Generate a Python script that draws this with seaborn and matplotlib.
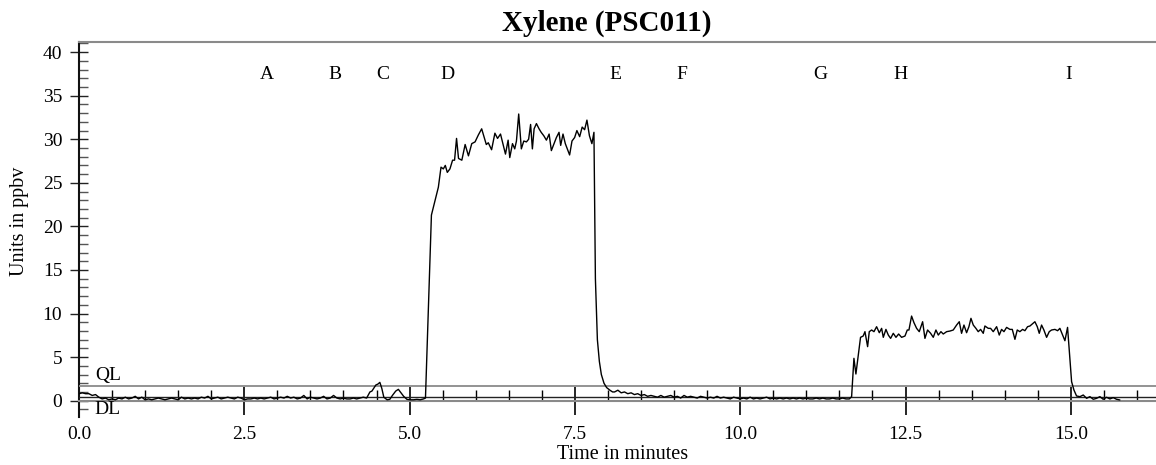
import numpy as np
import pandas as pd
import matplotlib
matplotlib.use("Agg")
import matplotlib.pyplot as plt
from matplotlib.ticker import MultipleLocator
import seaborn as sns

# ---------------- data ----------------
# baseline before event C (minutes, ppbv)
base1_time = [0.00, 0.05, 0.10, 0.15, 0.20, 0.25, 0.30, 0.35, 0.40, 0.45,
              0.50, 0.55, 0.60, 0.65, 0.70, 0.75, 0.80, 0.85, 0.90, 0.95,
              1.00, 1.05, 1.10, 1.15, 1.20, 1.25, 1.30, 1.35, 1.40, 1.45,
              1.50, 1.55, 1.60, 1.65, 1.70, 1.75, 1.80, 1.85, 1.90, 1.95,
              2.00, 2.05, 2.10, 2.15, 2.20, 2.25, 2.30, 2.35, 2.40, 2.45,
              2.50, 2.55, 2.60, 2.65, 2.70, 2.75, 2.80, 2.85, 2.90, 2.95,
              3.00, 3.05, 3.10, 3.15, 3.20, 3.25, 3.30, 3.35, 3.40, 3.45,
              3.50, 3.55, 3.60, 3.65, 3.70, 3.75, 3.80, 3.85, 3.90, 3.95,
              4.00, 4.05, 4.10, 4.15, 4.20, 4.25, 4.30]
base1_ppbv = [0.8, 0.9, 0.8, 0.8, 0.6, 0.7, 0.4, 0.2, 0.3, 0.1,
              0.2, 0.1, 0.3, 0.2, 0.4, 0.2, 0.3, 0.5, 0.2, 0.4,
              0.1, 0.2, 0.1, 0.2, 0.3, 0.2, 0.1, 0.2, 0.3, 0.2,
              0.1, 0.4, 0.2, 0.3, 0.2, 0.3, 0.2, 0.4, 0.3, 0.5,
              0.2, 0.3, 0.4, 0.2, 0.3, 0.4, 0.3, 0.2, 0.4, 0.3,
              0.1, 0.2, 0.2, 0.3, 0.2, 0.3, 0.2, 0.3, 0.4, 0.2,
              0.3, 0.4, 0.3, 0.5, 0.3, 0.4, 0.2, 0.3, 0.6, 0.2,
              0.4, 0.3, 0.2, 0.3, 0.5, 0.2, 0.3, 0.6, 0.3, 0.2,
              0.3, 0.2, 0.2, 0.3, 0.2, 0.3, 0.4]

# small bumps around C
bump_time = [4.35, 4.40, 4.43, 4.49, 4.52, 4.55, 4.58, 4.61, 4.66, 4.70,
             4.74, 4.79, 4.83, 4.86, 4.91, 4.96, 5.01, 5.06, 5.11, 5.16, 5.21]
bump_ppbv = [0.3, 1.0, 1.1, 1.8, 1.9, 2.1, 1.4, 0.4, 0.1, 0.15,
             0.6, 1.1, 1.3, 1.0, 0.5, 0.15, 0.1, 0.1, 0.15, 0.1, 0.2]

# first exposure (D..E)
peak1_time = [5.24, 5.33, 5.435, 5.475, 5.51, 5.54, 5.57, 5.61, 5.65, 5.68,
              5.71, 5.74, 5.79, 5.84, 5.89, 5.94, 5.99, 6.04, 6.09, 6.16,
              6.19, 6.24, 6.29, 6.33, 6.375, 6.415, 6.45, 6.49, 6.515, 6.556,
              6.59, 6.616, 6.65, 6.69, 6.727, 6.767, 6.80, 6.83, 6.857, 6.883,
              6.918, 6.958, 6.99, 7.03, 7.069, 7.11, 7.144, 7.185, 7.22, 7.26,
              7.285, 7.32, 7.355, 7.385, 7.42, 7.456, 7.496, 7.53, 7.572, 7.61,
              7.647, 7.682, 7.72, 7.757, 7.788, 7.81, 7.84, 7.87, 7.90, 7.94,
              7.98, 8.03, 8.07]
peak1_ppbv = [0.3, 21.3, 24.5, 26.8, 26.6, 27.0, 26.2, 26.6, 27.6, 27.6,
              30.1, 27.8, 27.6, 29.4, 28.1, 29.5, 29.7, 30.5, 31.2, 29.4,
              29.6, 28.8, 30.7, 30.1, 30.6, 29.4, 28.3, 29.9, 27.9, 29.5,
              28.9, 29.8, 32.9, 28.9, 29.8, 29.7, 30.0, 31.7, 28.9, 31.2,
              31.8, 31.2, 30.8, 30.4, 29.9, 30.6, 28.7, 29.5, 30.2, 30.8,
              29.3, 30.6, 29.5, 28.9, 28.2, 29.8, 30.2, 31.0, 30.3, 31.4,
              31.1, 32.2, 30.4, 29.5, 30.8, 14.0, 7.0, 4.5, 3.0, 2.0,
              1.5, 1.2, 1.0]

# baseline between E and H
base2_time = [8.10, 8.15, 8.20, 8.25, 8.30, 8.35, 8.40, 8.45, 8.50, 8.55,
              8.60, 8.65, 8.70, 8.75, 8.80, 8.85, 8.90, 8.95, 9.00, 9.05,
              9.10, 9.15, 9.20, 9.25, 9.30, 9.35, 9.40, 9.45, 9.50, 9.55,
              9.60, 9.65, 9.70, 9.75, 9.80, 9.85, 9.90, 9.95, 10.00, 10.05,
              10.10, 10.15, 10.20, 10.25, 10.30, 10.35, 10.40, 10.45, 10.50, 10.55,
              10.60, 10.65, 10.70, 10.75, 10.80, 10.85, 10.90, 10.95, 11.00, 11.05,
              11.10, 11.15, 11.20, 11.25, 11.30, 11.35, 11.40, 11.45, 11.50, 11.55,
              11.60, 11.65]
base2_ppbv = [1.0, 1.2, 0.9, 1.0, 0.8, 0.9, 0.7, 0.8, 0.6, 0.7,
              0.5, 0.6, 0.5, 0.4, 0.6, 0.4, 0.5, 0.6, 0.4, 0.5,
              0.3, 0.6, 0.4, 0.5, 0.4, 0.3, 0.5, 0.4, 0.3, 0.4,
              0.3, 0.5, 0.3, 0.4, 0.3, 0.2, 0.4, 0.3, 0.2, 0.3,
              0.2, 0.4, 0.2, 0.3, 0.2, 0.3, 0.4, 0.2, 0.3, 0.2,
              0.3, 0.2, 0.3, 0.2, 0.3, 0.2, 0.3, 0.2, 0.3, 0.2,
              0.2, 0.3, 0.2, 0.3, 0.2, 0.2, 0.3, 0.2, 0.2, 0.3,
              0.2, 0.2]

# second exposure (H..I) and tail
peak2_time = [11.685, 11.72, 11.75, 11.82, 11.86, 11.887, 11.927, 11.952, 11.988, 12.023,
              12.063, 12.104, 12.139, 12.164, 12.204, 12.24, 12.275, 12.315, 12.356, 12.396,
              12.441, 12.492, 12.527, 12.552, 12.592, 12.628, 12.668, 12.708, 12.759, 12.794,
              12.834, 12.88, 12.92, 12.96, 12.996, 13.036, 13.071, 13.122, 13.172, 13.222,
              13.273, 13.313, 13.348, 13.384, 13.424, 13.459, 13.49, 13.525, 13.565, 13.60,
              13.636, 13.676, 13.701, 13.752, 13.787, 13.827, 13.878, 13.918, 13.953, 13.989,
              14.029, 14.079, 14.115, 14.155, 14.19, 14.23, 14.271, 14.306, 14.346, 14.382,
              14.417, 14.457, 14.493, 14.523, 14.558, 14.593, 14.634, 14.674, 14.709, 14.76,
              14.80, 14.835, 14.911, 14.951, 14.987, 15.012, 15.047, 15.087, 15.138, 15.188,
              15.239, 15.289, 15.34, 15.39, 15.44, 15.49, 15.541, 15.591, 15.642, 15.692,
              15.742]
peak2_ppbv = [0.46, 4.86, 3.06, 7.27, 7.42, 7.92, 6.20, 7.92, 8.11, 7.92,
              8.49, 7.80, 8.30, 7.27, 8.18, 7.53, 7.15, 7.73, 7.27, 7.65,
              7.27, 7.42, 8.11, 8.11, 9.71, 8.95, 8.30, 7.92, 9.06, 7.15,
              8.11, 7.73, 7.27, 8.11, 7.53, 7.92, 7.65, 7.92, 7.99, 8.11,
              8.68, 9.06, 7.73, 8.68, 7.80, 8.49, 9.45, 8.68, 8.30, 7.92,
              8.18, 7.73, 8.57, 8.30, 8.30, 7.92, 8.49, 7.53, 8.18, 7.92,
              8.41, 8.18, 8.18, 7.04, 8.11, 7.92, 8.18, 8.03, 8.49, 8.57,
              8.80, 9.06, 8.49, 7.73, 8.68, 8.11, 7.27, 7.92, 8.11, 8.18,
              8.03, 8.30, 6.88, 8.41, 4.67, 2.18, 1.23, 0.54, 0.46, 0.65,
              0.27, 0.46, 0.16, 0.27, 0.46, 0.16, 0.39, 0.20, 0.35, 0.16,
              0.08]

# reference levels and event markers
ql_level = 1.69
dl_level = 0.46
event_labels = ["A", "B", "C", "D", "E", "F", "G", "H", "I"]
event_times = [2.84, 3.87, 4.60, 5.58, 8.11, 9.12, 11.21, 12.42, 14.96]
event_y = 37.4

x_major = [0.0, 2.5, 5.0, 7.5, 10.0, 12.5, 15.0]
x_major_labels = ["0.0", "2.5", "5.0", "7.5", "10.0", "12.5", "15.0"]
y_major = [0, 5, 10, 15, 20, 25, 30, 35, 40]

# ---------------- figure ----------------
sns.set_theme(style="white")
plt.rcParams['font.family'] = ['Liberation Serif', 'DejaVu Serif']
plt.rcParams['text.color'] = 'black'
plt.rcParams['axes.labelcolor'] = 'black'
plt.rcParams['xtick.color'] = 'black'
plt.rcParams['ytick.color'] = 'black'

W, H = 1156, 465
fig = plt.figure(figsize=(W / 100, H / 100), dpi=100)
ax_left, ax_right, ax_top, ax_bottom = 79, 1156, 41.7, 416.7
ax = fig.add_axes([ax_left / W, (H - ax_bottom) / H,
                   (ax_right - ax_left) / W, (ax_bottom - ax_top) / H])

df = pd.DataFrame({
    "time": base1_time + bump_time + peak1_time + base2_time + peak2_time,
    "ppbv": base1_ppbv + bump_ppbv + peak1_ppbv + base2_ppbv + peak2_ppbv,
})
sns.lineplot(data=df, x="time", y="ppbv", ax=ax, color="black",
             linewidth=1.0, estimator=None, sort=False, zorder=5)

ax.axhline(ql_level, color="#8a8a8a", lw=1.3, zorder=3)
ax.axhline(dl_level, color="#222222", lw=1.0, zorder=3)

ax.set_xlim(0, (ax_right - ax_left) / 66.12)
ax.set_ylim(-1.84, 41.2)

# spines
ax.spines["right"].set_visible(False)
ax.spines["top"].set_color("#8a8a8a")
ax.spines["top"].set_linewidth(1.5)
ax.spines["left"].set_color("#111111")
ax.spines["left"].set_linewidth(1.5)
ax.spines["bottom"].set_position(("data", 0))
ax.spines["bottom"].set_color("#8a8a8a")
ax.spines["bottom"].set_linewidth(1.5)

# ticks
ax.set_xticks(x_major)
ax.set_xticklabels(x_major_labels)
ax.xaxis.set_minor_locator(MultipleLocator(0.5))
ax.set_yticks(y_major)
ax.yaxis.set_minor_locator(MultipleLocator(1))
ax.tick_params(axis="x", which="major", direction="inout", length=19.5,
               width=1.2, color="black", pad=8.5, labelsize=14, bottom=True)
ax.tick_params(axis="x", which="minor", direction="in", length=8,
               width=1.0, color="black", bottom=True)
ax.tick_params(axis="y", which="major", direction="inout", length=13,
               width=1.0, color="#222222", pad=5.5, labelsize=14, left=True)
ax.tick_params(axis="y", which="minor", direction="in", length=6.5,
               width=1.0, color="#555555", left=True)

ax.set_xlabel("Time in minutes", fontsize=14.5)
ax.xaxis.set_label_coords((623 - ax_left) / (ax_right - ax_left),
                          (ax_bottom - 445) / (ax_bottom - ax_top))
ax.set_ylabel("Units in ppbv", fontsize=14.5)
ax.yaxis.set_label_coords(-(79 - 29) / (ax_right - ax_left), 0.52)

for lab, t in zip(event_labels, event_times):
    ax.text(t, event_y, lab, ha="center", va="center", fontsize=14)

ax.text(0.24, ql_level + 0.2, "QL", ha="left", va="bottom", fontsize=14)
ax.text(0.24, dl_level - 0.45, "DL", ha="left", va="top", fontsize=14)

fig.text(607 / W, 1 - 31 / H, "Xylene (PSC011)", ha="center", va="baseline",
         fontsize=21, fontweight="bold")

fig.savefig("out.png", dpi=100)
